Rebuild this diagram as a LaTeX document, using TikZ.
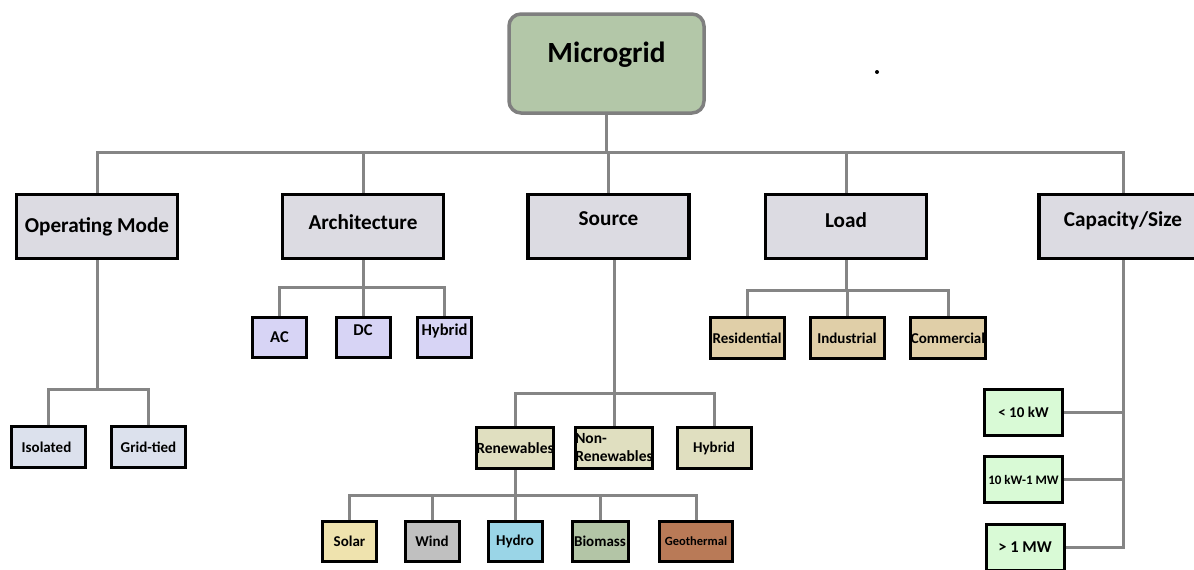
\documentclass[tikz,border=0pt]{standalone}
\usepackage{fontspec}
\setmainfont{Carlito}
\usetikzlibrary{calc}

\definecolor{rootgreen}{HTML}{B3C7A8}
\definecolor{rootedge}{HTML}{7F7F7F}
\definecolor{wiregray}{HTML}{858585}
\definecolor{catfill}{HTML}{DCDBE2}
\definecolor{modefill}{HTML}{DCE1ED}
\definecolor{archfill}{HTML}{D7D4F5}
\definecolor{srcfill}{HTML}{E0DFC0}
\definecolor{loadfill}{HTML}{E0CFA8}
\definecolor{capfill}{HTML}{D9FAD6}
\definecolor{solarfill}{HTML}{EFE3AE}
\definecolor{windfill}{HTML}{C0C0C0}
\definecolor{hydrofill}{HTML}{9AD5E7}
\definecolor{biofill}{HTML}{B3C5A6}
\definecolor{geofill}{HTML}{B97A57}

\tikzset{
  wire/.style={draw=wiregray, line width=3pt},
  box/.style={draw=black, line width=3pt, inner sep=0pt, align=center},
  root/.style={draw=rootedge, line width=3.5pt, rounded corners=12pt, fill=rootgreen,
    minimum width=195pt, minimum height=99pt, inner sep=0pt,
    font=\fontsize{29.3}{33}\selectfont\bfseries, text height=19pt},
  cat/.style={box, line width=3.5pt, fill=catfill, minimum width=161pt, minimum height=64pt,
    font=\fontsize{21.2}{25}\selectfont\bfseries, text height=14pt},
  leaf/.style={box, minimum width=74pt, minimum height=41pt,
    font=\fontsize{15}{17}\selectfont\bfseries},
  small/.style={leaf, minimum width=54pt, minimum height=40pt},
  capleaf/.style={leaf, fill=capfill, minimum width=78pt, minimum height=46pt},
  lift/.style={text depth=#1},
}

\begin{document}
\begin{tikzpicture}[x=1pt,y=-1pt]
\useasboundingbox[fill=white] (0,0) rectangle (1194,570);

\node[root, lift=22pt] (mg) at (606.5,63.5) {Microgrid};
\fill (877,72) circle (2pt);

\node[cat, lift=3pt]  (opm) at (97,226.5)  {Operating Mode};
\node[cat, lift=9pt]  (arc) at (363,226.5) {Architecture};
\node[cat, lift=17pt] (src) at (608.5,226.5) {Source};
\node[cat, lift=13pt] (ld)  at (846,226.5) {Load};
\node[cat, lift=15pt, minimum width=168pt] (cap) at (1123,226.5) {Capacity/Size};

\node[leaf, fill=modefill] (iso)  at (48.5,447)  {Isolated\hspace{4pt}};
\node[leaf, fill=modefill] (grid) at (148.5,447) {Grid-tied};

\node[small, fill=archfill, font=\fontsize{16.5}{19}\selectfont\bfseries] (ac)   at (279.5,337.5) {AC};
\node[small, fill=archfill, font=\fontsize{16.5}{19}\selectfont\bfseries] (dc)   at (363,337.5)   {DC\\[-4pt]\mbox{}};
\node[small, fill=archfill, font=\fontsize{16.5}{19}\selectfont\bfseries] (ahyb) at (444.5,337.5) {Hybrid\\[-4pt]\mbox{}};

\node[leaf, fill=srcfill, font=\fontsize{15.5}{18}\selectfont\bfseries] (ren) at (515,448) {Renewables};
\node[leaf, fill=srcfill, align=left, font=\fontsize{15.5}{18}\selectfont\bfseries] (nren) at (614,448) {Non-\\Renewables};
\node[leaf, fill=srcfill] (shyb) at (714,448) {Hybrid};

\node[small, fill=solarfill, minimum width=54pt] (solar) at (349.5,541.5) {Solar};
\node[small, fill=windfill]  (wind)  at (432,541.5) {Wind};
\node[small, fill=hydrofill] (hydro) at (515,541.5) {Hydro};
\node[small, fill=biofill, minimum width=56pt] (bio) at (600,541.5) {Biomass};
\node[leaf, fill=geofill, minimum width=73pt, minimum height=40pt,
  font=\fontsize{12.5}{15}\selectfont\bfseries] (geo) at (696,541) {Geothermal};

\node[leaf, fill=loadfill] (res) at (747,338) {Residential};
\node[leaf, fill=loadfill] (ind) at (847,338) {Industrial};
\node[leaf, fill=loadfill] (com) at (948,338) {Commercial};

\node[capleaf] (c1) at (1023.5,412.5) {\textless\ 10 kW};
\node[capleaf, font=\fontsize{13}{15}\selectfont\bfseries] (c2) at (1023.5,479.5) {10 kW-1 MW};
\node[capleaf, font=\fontsize{16.5}{19}\selectfont\bfseries] (c3) at (1025,547.5) {\textgreater\ 1 MW};

\draw[wire] (mg.south) -- ++(0,38) coordinate (top);
\draw[wire] (opm.north) |- (top) -| (cap.north);
\foreach \n in {arc,src,ld} {
 \draw[wire] (\n.north) -- (\n.north |- top);
}

\draw[wire] (opm.south) -- ++(0,129) coordinate (opmbus);
\draw[wire] (iso.north) |- (opmbus) -| (grid.north);

\draw[wire] (arc.south) -- ++(0,27) coordinate (arcbus);
\draw[wire] (ac.north) |- (arcbus) -| (ahyb.north);
\draw[wire] (dc.north) -- (dc.north |- arcbus);

\draw[wire] (src.south -| nren.north) -- (nren.north);
\draw[wire] (ren.north) -- ++(0,-33) -| (shyb.north);

\draw[wire] (ren.south) -- ++(0,25) coordinate (renbus);
\draw[wire] (solar.north) |- (renbus) -| (geo.north);
\foreach \n in {wind,hydro,bio} {
 \draw[wire] (\n.north) -- (\n.north |- renbus);
}

\draw[wire] (ld.south) -- ++(0,30) coordinate (ldbus);
\draw[wire] (res.north) |- (ldbus) -| (com.north);
\draw[wire] (ind.north) -- (ind.north |- ldbus);

\draw[wire] (cap.south) |- (c3.east);
\foreach \n in {c1,c2} {
 \draw[wire] (\n.east) -- (\n.east -| cap.south);
}
\end{tikzpicture}
\end{document}
